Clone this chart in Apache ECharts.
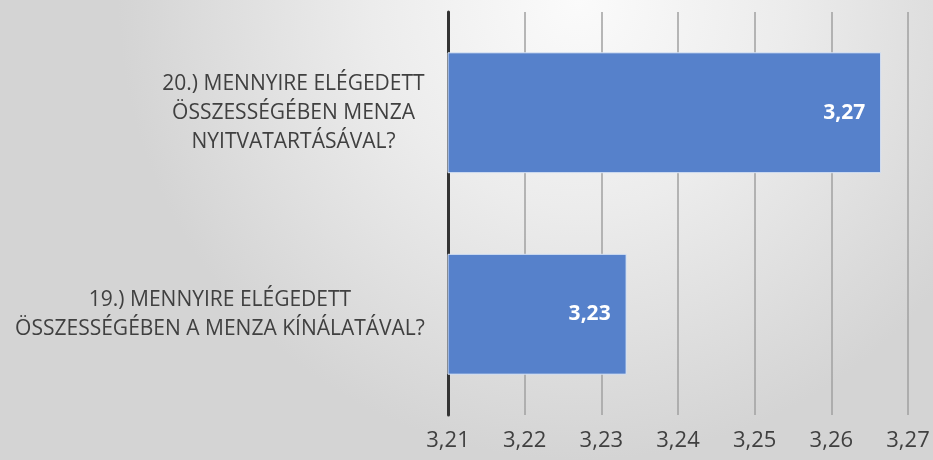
<!DOCTYPE html>
<html>
<head>
<meta charset="utf-8">
<script src="https://cdn.jsdelivr.net/npm/echarts@6/dist/echarts.min.js"></script>
<style>
  html, body { margin: 0; padding: 0; }
  #chart { width: 933px; height: 460px; }
</style>
</head>
<body>
<div id="chart"></div>
<script>
// kérdések (alulról felfelé) és átlagértékek
var questions = [
  '19.) MENNYIRE ELÉGEDETT\nÖSSZESSÉGÉBEN A MENZA KÍNÁLATÁVAL?',
  '20.) MENNYIRE ELÉGEDETT\nÖSSZESSÉGÉBEN MENZA\nNYITVATARTÁSÁVAL?'
];
var averages = [3.2333, 3.2665];
var axisMin = 3.21, axisMax = 3.27, axisStep = 0.01;

var labelFont = '"Open Sans", sans-serif';
var labelSize = 21;

// a többsoros címkéket blokkon belül középre igazítjuk
var ctx = document.createElement('canvas').getContext('2d');
ctx.font = labelSize + 'px "Open Sans"';
var rich = {};
questions.forEach(function (q, i) {
  var w = 0;
  q.split('\n').forEach(function (line) {
    w = Math.max(w, ctx.measureText(line).width);
  });
  rich['c' + i] = { width: Math.ceil(w) + 2, align: 'center', fontSize: labelSize,
    fontFamily: labelFont, color: '#404040', lineHeight: 29 };
});

function comma(v, digits) {
  return v.toFixed(digits).replace('.', ',');
}

var chart = echarts.init(document.getElementById('chart'));
chart.setOption({
  animation: false,
  backgroundColor: {
    type: 'radial', x: 0.62, y: 0.0, r: 1.0,
    colorStops: [
      { offset: 0, color: '#fbfbfb' },
      { offset: 0.45, color: '#ececec' },
      { offset: 1, color: '#d4d4d4' }
    ]
  },
  grid: { left: 448, right: 25, top: 12, bottom: 45, containLabel: false },
  xAxis: {
    type: 'value',
    min: axisMin,
    max: axisMax,
    interval: axisStep,
    axisLine: { show: false },
    axisTick: { show: false },
    splitLine: { show: true, lineStyle: { color: '#a0a0a0', width: 1.5 } },
    axisLabel: {
      margin: 15,
      fontFamily: labelFont,
      fontSize: 22,
      color: '#404040',
      formatter: function (v) { return comma(v, 2); }
    }
  },
  yAxis: {
    type: 'category',
    data: questions,
    axisLine: { show: true, lineStyle: { color: '#333333', width: 3 } },
    axisTick: { show: false },
    axisLabel: {
      margin: 22,
      align: 'right',
      formatter: function (v, i) {
        return v.split('\n').map(function (line) {
          return '{c' + i + '|' + line + '}';
        }).join('\n');
      },
      rich: rich
    }
  },
  series: [{
    type: 'bar',
    data: averages,
    barWidth: '60%',
    itemStyle: { color: '#5681cb', borderColor: '#dde7f5', borderWidth: 1 },
    label: {
      show: true,
      position: 'insideRight',
      distance: 16,
      color: '#ffffff',
      fontWeight: 'bold',
      fontFamily: labelFont,
      fontSize: 21,
      formatter: function (p) { return comma(p.value, 2); }
    }
  }]
});
</script>
</body>
</html>
